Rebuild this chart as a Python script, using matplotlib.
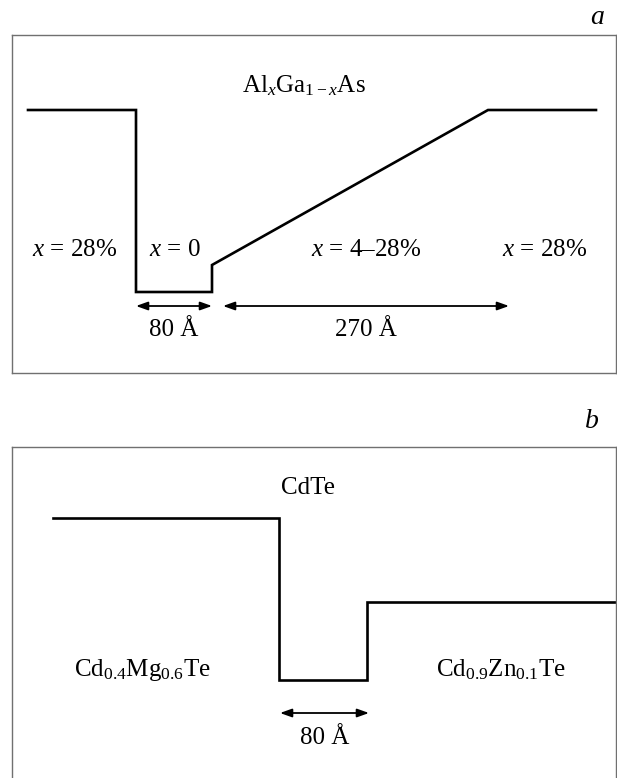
import matplotlib

matplotlib.use("Agg")
import matplotlib.pyplot as plt

plt.rcParams["font.family"] = ["Liberation Serif", "DejaVu Serif"]
plt.rcParams["mathtext.fontset"] = "custom"
plt.rcParams["mathtext.rm"] = "Liberation Serif"
plt.rcParams["mathtext.it"] = "Liberation Serif:italic"

# панель a: профиль края зоны (условные единицы)
a_pos = [16, 124, 124, 200, 200, 476, 584]
a_edge = [263, 263, 81, 81, 108, 263, 263]
a_arrows = [(124, 200, "80 Å"), (211, 497, "270 Å")]
a_labels = [(63, "$x$ = 28%"), (163, "$x$ = 0"), (354, "$x$ = 4–28%"), (533, "$x$ = 28%")]
a_title = "Al$_x$Ga$_{1-x}$As"

# панель b
b_pos = [41, 267, 267, 355, 355, 610]
b_edge = [260, 260, 98, 98, 176, 176]
b_arrows = [(268, 357, "80 Å")]
b_labels = [(130, "Cd$_{0.4}$Mg$_{0.6}$Te"), (489, "Cd$_{0.9}$Zn$_{0.1}$Te")]
b_title = "CdTe"

W, H = 617, 778
fig = plt.figure(figsize=(W / 100, H / 100), dpi=100)


def make_axes(left, top, right, bottom):
    ax = fig.add_axes([left / W, 1 - bottom / H, (right - left) / W, (bottom - top) / H])
    ax.set_xlim(0, right - left)
    ax.set_ylim(0, bottom - top)
    ax.set_xticks([])
    ax.set_yticks([])
    for sp in ax.spines.values():
        sp.set_color("#707070")
        sp.set_linewidth(1.0)
    return ax


def draw_arrow(ax, x0, x1, y):
    ax.annotate(
        "",
        xy=(x1, y),
        xytext=(x0, y),
        arrowprops=dict(
            arrowstyle="<|-|>,head_length=0.7,head_width=0.25",
            color="black",
            lw=1.3,
            shrinkA=0,
            shrinkB=0,
            mutation_scale=10,
        ),
    )


fs = 18

ax_a = make_axes(12, 35, 616, 373)
ax_a.plot(a_pos, a_edge, color="black", lw=1.9, solid_joinstyle="miter")
for x0, x1, lab in a_arrows:
    draw_arrow(ax_a, x0, x1, 67)
    ax_a.text((x0 + x1) / 2, 43, lab, ha="center", va="center", fontsize=fs)
for x, lab in a_labels:
    ax_a.text(x, 123, lab, ha="center", va="center", fontsize=fs)
ax_a.text(292, 287, a_title, ha="center", va="center", fontsize=fs)
ax_a.text(585, 356, "$a$", ha="center", va="center", fontsize=fs + 2, clip_on=False)

ax_b = make_axes(12, 447, 616, 778)
ax_b.spines["bottom"].set_visible(False)
ax_b.plot(b_pos, b_edge, color="black", lw=1.9, solid_joinstyle="miter", clip_on=False)
for x0, x1, lab in b_arrows:
    draw_arrow(ax_b, x0, x1, 65)
    ax_b.text((x0 + x1) / 2, 40, lab, ha="center", va="center", fontsize=fs)
for x, lab in b_labels:
    ax_b.text(x, 108, lab, ha="center", va="center", fontsize=fs)
ax_b.text(296, 290, b_title, ha="center", va="center", fontsize=fs)
ax_b.text(580, 356, "$b$", ha="center", va="center", fontsize=fs + 2, clip_on=False)

fig.savefig("out.png", dpi=100)
